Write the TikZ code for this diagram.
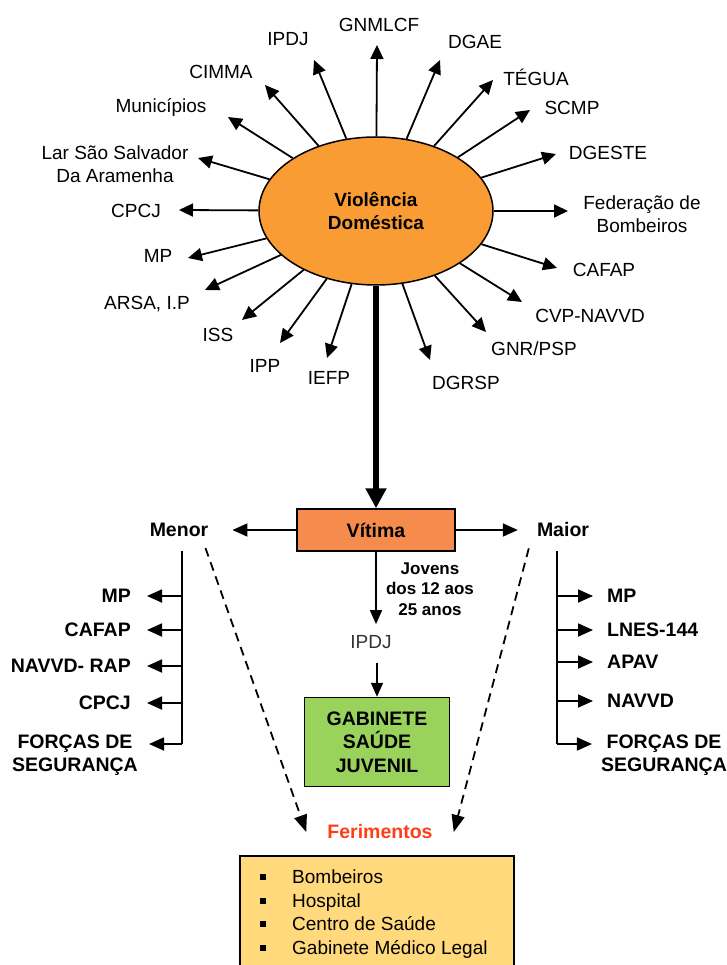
\documentclass[tikz,border=0pt]{standalone}
\usepackage{fontspec}
\setmainfont{Liberation Sans}
\usetikzlibrary{arrows.meta,shapes.geometric}
\definecolor{vdorange}{HTML}{F99C33}
\definecolor{vitorange}{HTML}{F68B4E}
\definecolor{gabgreen}{HTML}{9AD35C}
\definecolor{listyellow}{HTML}{FFD97B}
\definecolor{ferred}{HTML}{FF3D17}

\begin{document}
\begin{tikzpicture}[x=1pt,y=-1pt,
    lbl/.style={font=\fontsize{19}{23}\selectfont, inner sep=0pt, align=center},
    blbl/.style={font=\fontsize{19.5}{23.5}\selectfont\bfseries, inner sep=0pt, align=center},
    ray/.style={line width=1.8pt, -{Triangle[length=14pt,width=13pt]}},
    arr/.style={line width=1.8pt, -{Triangle[length=15pt,width=13pt]}},
    bar/.style={line width=1.8pt},
    dasharr/.style={line width=1.8pt, dash pattern=on 9pt off 6pt, -{Triangle[length=17pt,width=13pt]}},
    box/.style={draw, line width=1.5pt}]
    \useasboundingbox (0,0) rectangle (726,965);

    % centre
    \node[box, ellipse, fill=vdorange, minimum width=234pt, minimum height=148pt, inner sep=0pt,
        font=\fontsize{19}{23}\selectfont\bfseries, align=center] (vd) at (376,211) {Violência\\Doméstica};

    \foreach \tx/\ty/\lx/\ly/\txt [count=\i] in {
        377/45/379/25/GNMLCF, 314/60/288/39/IPDJ, 440/60/475/42/DGAE,
        265/85/221/72/CIMMA, 493/80/536/77/TÉGUA, 228/117/161/107/Municípios,
        530/110/572/108/SCMP, 198/158/115/164/{Lar São Salvador\\Da Aramenha},
        556/154/608/153/DGESTE, 179/210/136/211/CPCJ,
        568/211/642/214/{Federação de\\Bombeiros}, 188/258/158/256/MP,
        557/268/604/270/CAFAP, 205/290/147/304/{ARSA, I.P},
        522/302/590/316/CVP-NAVVD, 242/320/218/335/ISS,
        486/332/534/349/{GNR/PSP}, 280/343/265/366/IPP,
        327/358/329/378/IEFP, 430/360/466/383/DGRSP} {
        \coordinate (t\i) at (\tx,\ty);
        \node[lbl] (l\i) at (\lx,\ly) {\txt};
        \draw[ray] (vd) -- (t\i);
    }

    \node[box, fill=vitorange, minimum width=158pt, minimum height=42pt, font=\fontsize{19.5}{23}\selectfont\bfseries] (vit) at (376,530) {Vítima};
    \draw[line width=6pt, -{Triangle[length=20pt,width=20pt]}] (vd) -- (vit);

    \node[blbl] (menor) at (179,530) {Menor};
    \node[blbl] (maior) at (563,530) {Maior};
    \draw[arr, shorten >=24pt] (vit) -- (menor);
    \draw[arr, shorten >=19pt] (vit) -- (maior);

    % menor
    \coordinate (lt) at (182,551);
    \coordinate (lb) at (182,744);
    \draw[bar] (lt) -- (lb);
    \foreach \y/\txt [count=\i] in {596/MP, 630/CAFAP, 666/NAVVD- RAP, 703/CPCJ} {
        \node[blbl, anchor=east] (m\i) at (131,\y) {\txt};
        \draw[arr, shorten >=16pt] (lt |- m\i) -- (m\i);
    }
    \node[blbl] (mf) at (75,755) {FORÇAS DE\\SEGURANÇA};
    \draw[arr, shorten >=11pt] (lb) -- (lb -| mf.east);

    % maior
    \coordinate (rt) at (557,551);
    \coordinate (rb) at (557,744);
    \draw[bar] (rt) -- (rb);
    \foreach \y/\txt [count=\i] in {596/MP, 630/LNES-144, 662/APAV, 701/NAVVD} {
        \node[blbl, anchor=west] (a\i) at (607,\y) {\txt};
        \draw[arr, shorten >=14pt] (rt |- a\i) -- (a\i);
    }
    \node[blbl] (af) at (664,755) {FORÇAS DE\\SEGURANÇA};
    \draw[arr, shorten >=9pt] (rb) -- (rb -| af.west);

    % jovens
    \node[font=\fontsize{17}{20.5}\selectfont\bfseries, align=center, inner sep=0pt] (jov) at (430,589) {Jovens\\dos 12 aos\\25 anos};
    \node[lbl, text=black!80] (ipdj) at (371,642) {IPDJ};
    \draw[line width=1.5pt, -{Triangle[length=14pt,width=12pt]}, shorten >=11pt] (vit.south) -- (vit.south |- ipdj.north);
    \node[box, fill=gabgreen, minimum width=145pt, minimum height=89pt, blbl] (gab) at (377,742) {GABINETE\\SAÚDE\\JUVENIL};
    \draw[line width=1.5pt, -{Triangle[length=14pt,width=12pt]}, shorten <=14pt] (ipdj.south -| gab.north) -- (gab.north);

    % ferimentos
    \node[blbl, text=ferred] (ferim) at (380,832) {Ferimentos};
    \draw[dasharr] ([xshift=-3pt,yshift=-11pt]menor.south east) -- ([xshift=-21pt]ferim.west);
    \draw[dasharr] ([xshift=-8pt,yshift=-11pt]maior.south west) -- ([xshift=21pt]ferim.east);

    \node[box, fill=listyellow, anchor=north west, minimum width=274pt, minimum height=130pt] (lst) at (239,855) {};
    \foreach \txt [count=\i] in {Bombeiros, Hospital, Centro de Saúde, Gabinete Médico Legal} {
        \node[fill=black, minimum size=6pt, inner sep=0pt] (b\i) at (263,853.3+23.7*\i) {};
        \node[lbl, anchor=base west] (it\i) at (292,859.8+23.7*\i) {\txt};
    }
\end{tikzpicture}
\end{document}
